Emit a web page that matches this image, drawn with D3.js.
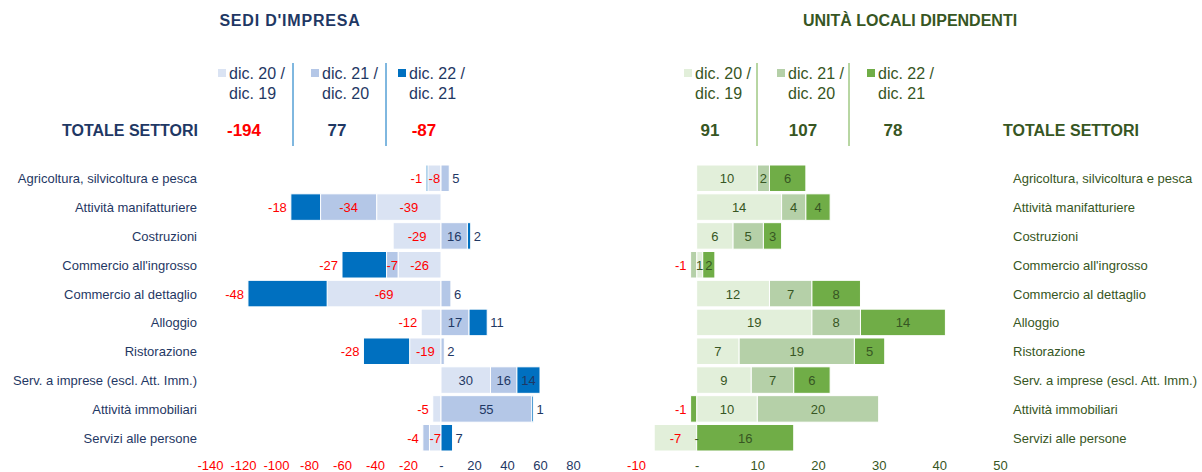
<!DOCTYPE html>
<html>
<head>
<meta charset="utf-8">
<script src="https://cdn.jsdelivr.net/npm/d3@7"></script>
<style>
  body { margin: 0; background: #fff; }
  svg { font-family: "Liberation Sans", Arial, sans-serif; }
</style>
</head>
<body>
<div id="chart"></div>
<script>
// categories (same for both panels)
const categories = [
  "Agricoltura, silvicoltura e pesca",
  "Attività manifatturiere",
  "Costruzioni",
  "Commercio all'ingrosso",
  "Commercio al dettaglio",
  "Alloggio",
  "Ristorazione",
  "Serv. a imprese (escl. Att. Imm.)",
  "Attività immobiliari",
  "Servizi alle persone"
];

const seriesNames = [["dic. 20 /", "dic. 19"], ["dic. 21 /", "dic. 20"], ["dic. 22 /", "dic. 21"]];

// sedi d'impresa
const sediS1 = [-8, -39, -29, -26, -69, -12, -19, 30, -5, -7];
const sediS2 = [5, -34, 16, -7, 6, 17, 2, 16, 55, -4];
const sediS3 = [-1, -18, 2, -27, -48, 11, -28, 14, 1, 7];
const sediTotals = [-194, 77, -87];
const sediTicks = [-140, -120, -100, -80, -60, -40, -20, 0, 20, 40, 60, 80];

// unità locali dipendenti
const unitaS1 = [10, 14, 6, 1, 12, 19, 7, 9, 10, -7];
const unitaS2 = [2, 4, 5, -1, 7, 8, 19, 7, 20, 0];
const unitaS3 = [6, 4, 3, 2, 8, 14, 5, 6, -1, 16];
const unitaTotals = [91, 107, 78];
const unitaTicks = [-10, 0, 10, 20, 30, 40, 50];

const W = 1202, H = 472;
const RED = "#ff0000";

const svg = d3.select("#chart").append("svg")
  .attr("width", W)
  .attr("height", H);

const y = d3.scaleBand(categories, [165, 451]).paddingInner(0.08);

const fmt = v => v === 0 ? "-" : String(v);

function drawPanel(cfg) {
  const x = d3.scaleLinear(cfg.domain, cfg.range);
  const rows = categories.map((c, i) => ({ cat: c, s0: cfg.s[0][i], s1: cfg.s[1][i], s2: cfg.s[2][i] }));
  const stacked = d3.stack().keys(["s0", "s1", "s2"]).offset(d3.stackOffsetDiverging)(rows);

  const g = svg.append("g");

  // title
  g.append("text")
    .attr("x", cfg.titleX).attr("y", 26)
    .attr("text-anchor", "middle")
    .attr("font-size", 16).attr("font-weight", "bold")
    .attr("letter-spacing", cfg.titleSpacing)
    .attr("fill", cfg.dark)
    .text(cfg.title);

  // legend + totals
  cfg.cols.forEach((cx, k) => {
    g.append("rect")
      .attr("x", cx - 26).attr("y", 69)
      .attr("width", 8).attr("height", 8)
      .attr("fill", cfg.colors[k]);
    seriesNames[k].forEach((line, j) => {
      g.append("text")
        .attr("x", cx - 15).attr("y", 79 + j * 20)
        .attr("font-size", 16)
        .attr("fill", cfg.dark)
        .text(line);
    });
    g.append("text")
      .attr("x", cx).attr("y", 136)
      .attr("text-anchor", "middle")
      .attr("font-size", 17).attr("font-weight", "bold")
      .attr("fill", cfg.totals[k] < 0 ? RED : cfg.dark)
      .text(cfg.totals[k]);
  });
  cfg.seps.forEach(sx => {
    g.append("line")
      .attr("x1", sx).attr("x2", sx)
      .attr("y1", 63).attr("y2", 146)
      .attr("stroke", cfg.colors[2]).attr("stroke-width", 1);
  });
  g.append("text")
    .attr("x", cfg.totLabelX).attr("y", 136)
    .attr("text-anchor", cfg.totLabelAnchor)
    .attr("font-size", 16).attr("font-weight", "bold")
    .attr("fill", cfg.dark)
    .text("TOTALE SETTORI");

  // bars
  const layers = g.selectAll(".layer").data(stacked).enter().append("g")
    .attr("fill", (d, i) => cfg.colors[i]);
  layers.selectAll("rect").data(d => d).enter().append("rect")
    .attr("x", d => x(Math.min(d[0], d[1])))
    .attr("y", d => y(d.data.cat))
    .attr("width", d => Math.abs(x(d[1]) - x(d[0])))
    .attr("height", y.bandwidth())
    .attr("stroke", "#fff").attr("stroke-width", 1);

  // value labels
  stacked.forEach((layer, k) => {
    layer.forEach((d, i) => {
      const v = d.data["s" + k];
      const lo = Math.min(d[0], d[1]), hi = Math.max(d[0], d[1]);
      const t = g.append("text")
        .attr("y", y(d.data.cat) + y.bandwidth() / 2 + 5)
        .attr("font-size", 13)
        .attr("fill", v < 0 ? RED : cfg.dark)
        .text(fmt(v));
      const tw = t.node().getComputedTextLength();
      const wpx = x(hi) - x(lo);
      // outermost segment on its side?
      const later = [0, 1, 2].filter(j => j > k).map(j => d.data["s" + j]);
      const outer = v < 0 ? later.every(u => u >= 0) : later.every(u => u <= 0);
      let out = v !== 0 && outer && (wpx < tw + 4 || (cfg.lastOutside && k === 2));
      if (cfg.keepInside.has(i + "-" + k)) out = false;
      if (out) {
        if (v < 0) t.attr("x", x(lo) - 4).attr("text-anchor", "end");
        else t.attr("x", x(hi) + 3).attr("text-anchor", "start");
      } else {
        t.attr("x", x((lo + hi) / 2)).attr("text-anchor", "middle");
      }
    });
  });

  // category labels
  g.selectAll(".cat").data(categories).enter().append("text")
    .attr("x", cfg.catX)
    .attr("y", d => y(d) + y.bandwidth() / 2 + 5)
    .attr("text-anchor", cfg.catAnchor)
    .attr("font-size", 13)
    .attr("fill", cfg.dark)
    .text(d => d);

  // axis
  const ax = g.append("g")
    .attr("transform", "translate(0,458)")
    .call(d3.axisBottom(x).tickValues(cfg.ticks).tickSize(0).tickPadding(3).tickFormat(fmt));
  ax.select(".domain").remove();
  ax.selectAll("text")
    .attr("font-family", "Liberation Sans, Arial, sans-serif")
    .attr("font-size", 13)
    .attr("fill", d => d < 0 ? RED : cfg.dark);
}

drawPanel({
  title: "SEDI D'IMPRESA", titleX: 290, titleSpacing: 0.8,
  dark: "#1f3864",
  colors: ["#dae3f3", "#b4c7e7", "#0070c0"],
  s: [sediS1, sediS2, sediS3],
  totals: sediTotals,
  ticks: sediTicks,
  domain: [-140, 80], range: [210, 573],
  cols: [244, 337, 424], seps: [293, 386],
  totLabelX: 198, totLabelAnchor: "end",
  catX: 197, catAnchor: "end",
  lastOutside: true,
  keepInside: new Set(["7-2"])
});

drawPanel({
  title: "UNITÀ LOCALI DIPENDENTI", titleX: 910, titleSpacing: 0,
  dark: "#375623",
  colors: ["#e2efda", "#b5d0a8", "#70ad47"],
  s: [unitaS1, unitaS2, unitaS3],
  totals: unitaTotals,
  ticks: unitaTicks,
  domain: [-10, 50], range: [636, 1000],
  cols: [710, 803, 893], seps: [757, 849],
  totLabelX: 1003, totLabelAnchor: "start",
  catX: 1013, catAnchor: "start",
  lastOutside: false,
  keepInside: new Set()
});
</script>
</body>
</html>
